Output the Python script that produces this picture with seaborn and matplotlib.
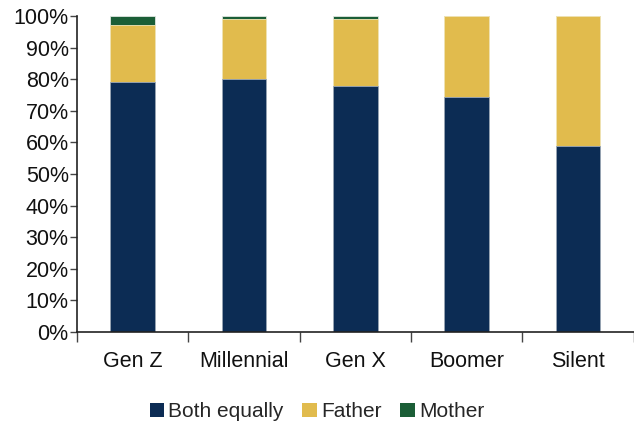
import matplotlib
matplotlib.use("Agg")
import matplotlib.pyplot as plt
import seaborn as sns
import pandas as pd
import numpy as np
from matplotlib.patches import Patch
from matplotlib.ticker import PercentFormatter, FixedLocator
from matplotlib import font_manager

categories = ["Gen Z", "Millennial", "Gen X", "Boomer", "Silent"]
both_equally = [79, 80, 78, 74.5, 59]
father = [18, 19, 21, 25.5, 41]
mother = [3, 1, 1, 0, 0]
series_names = ["Both equally", "Father", "Mother"]
colors = ["#0C2C54", "#E1BB4D", "#1B5E37"]

sns.set_theme(style="white")
names = {f.name for f in font_manager.fontManager.ttflist}
fam = ["Liberation Sans Narrow", "Liberation Sans", "DejaVu Sans"]
fam = [f for f in fam if f in names] + ["DejaVu Sans"]
plt.rcParams["font.family"] = fam

df = pd.DataFrame({"cat": categories, "both": both_equally,
                   "father": father, "mother": mother})
df["lvl2"] = df["both"] + df["father"]
df["lvl3"] = df["lvl2"] + df["mother"]

fig = plt.figure(figsize=(6.34, 4.28), dpi=100)
ax = fig.add_axes([0.1215, 0.2243, 0.878, 0.7383])

kw = dict(width=0.4, linewidth=0.6, ax=ax, order=categories, saturation=1)
sns.barplot(data=df, x="cat", y="lvl3", color=colors[2], edgecolor="#dfe6e0", **kw)
sns.barplot(data=df, x="cat", y="lvl2", color=colors[1], edgecolor="#f3e6b8", **kw)
sns.barplot(data=df, x="cat", y="both", color=colors[0], edgecolor="#9aa8bb", **kw)

ax.set_ylim(0, 100)
ax.set_xlim(-0.5, 4.5)
ax.set_yticks(np.arange(0, 101, 10))
ax.yaxis.set_major_formatter(PercentFormatter(decimals=0))
ax.set_xlabel("")
ax.set_ylabel("")

for s in ["top", "right"]:
    ax.spines[s].set_visible(False)
for s in ["left", "bottom"]:
    ax.spines[s].set_color("#222222")
    ax.spines[s].set_linewidth(1.2)

ax.tick_params(axis="y", which="major", direction="out", length=5, width=1,
               color="#444444", labelsize=15.5, pad=1, left=True)
ax.tick_params(axis="x", which="major", length=0, labelsize=15.5, pad=14)
ax.xaxis.set_minor_locator(FixedLocator(np.arange(-0.5, 5.0, 1.0)))
ax.tick_params(axis="x", which="minor", direction="out", length=7, width=1,
               color="#444444", bottom=True)
for lab in ax.get_xticklabels() + ax.get_yticklabels():
    lab.set_color("#111111")

handles = [Patch(facecolor=c, edgecolor="none", label=n)
           for c, n in zip(colors, series_names)]
fig.legend(handles=handles, loc="center", bbox_to_anchor=(0.5, 0.038),
           ncol=3, frameon=False, fontsize=15, handlelength=0.7,
           handleheight=0.7, handletextpad=0.2, columnspacing=0.9)

fig.savefig("out.png", dpi=100)
